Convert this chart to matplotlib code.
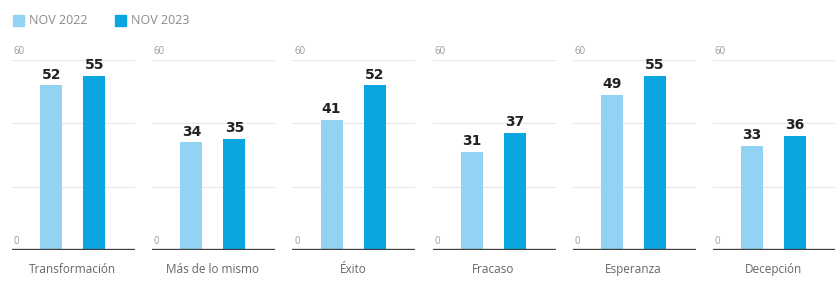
import matplotlib
matplotlib.use("Agg")
import matplotlib.pyplot as plt
from matplotlib.patches import Rectangle

categories = ["Transformación", "Más de lo mismo", "Éxito", "Fracaso", "Esperanza", "Decepción"]
nov_2022 = [52, 34, 41, 31, 49, 33]
nov_2023 = [55, 35, 52, 37, 55, 36]
series_labels = ["NOV 2022", "NOV 2023"]

c_light = "#92d2f2"
c_dark = "#0aa6e2"
grid_c = "#e6e6e6"

plt.rcParams["font.family"] = ["Open Sans", "DejaVu Sans"]

W, H = 835, 282
fig = plt.figure(figsize=(W / 100, H / 100), dpi=100)

# legend
for i, (lab, col) in enumerate(zip(series_labels, [c_light, c_dark])):
    x0 = 13 + i * 102
    fig.patches.append(Rectangle((x0 / W, 1 - 26 / H), 11 / W, 11 / H,
                                 transform=fig.transFigure, color=col))
    fig.text((x0 + 16) / W, 1 - 20.5 / H, lab, fontsize=9, color="#8a8a8a",
             va="center", ha="left")

bottom = 250
top = 60
for i, cat in enumerate(categories):
    left = 12 + i * 140.2
    ax = fig.add_axes([left / W, 1 - bottom / H, 123 / W, (bottom - top) / H])
    ax.set_xlim(-0.91, 1.95)
    ax.set_ylim(0, 60)
    for v in (20, 40, 60):
        ax.axhline(v, color=grid_c, lw=0.8, zorder=0)
    ax.axhline(0, color="#404040", lw=2.4, zorder=3)
    vals = [nov_2022[i], nov_2023[i]]
    ax.bar([0, 1], vals, width=0.51, color=[c_light, c_dark], zorder=2)
    for x, v in zip([0, 1], vals):
        ax.text(x, v + 1.2, str(v), ha="center", va="bottom", fontsize=10,
                fontweight="bold", color="#222222",
                family=["Liberation Sans Narrow", "DejaVu Sans"], clip_on=False)
    ax.text(-0.87, 60.8, "60", fontsize=7, color="#9a9a9a", ha="left",
            va="bottom")
    ax.text(-0.87, 0.9, "0", fontsize=7, color="#9a9a9a", ha="left",
            va="bottom")
    ax.text(0.5, -4.2, cat, fontsize=8.5, color="#666666", ha="center", va="top",
            clip_on=False)
    for s in ax.spines.values():
        s.set_visible(False)
    ax.set_xticks([])
    ax.set_yticks([])
    ax.patch.set_alpha(0)

fig.savefig("out.png", dpi=100, facecolor="white")
